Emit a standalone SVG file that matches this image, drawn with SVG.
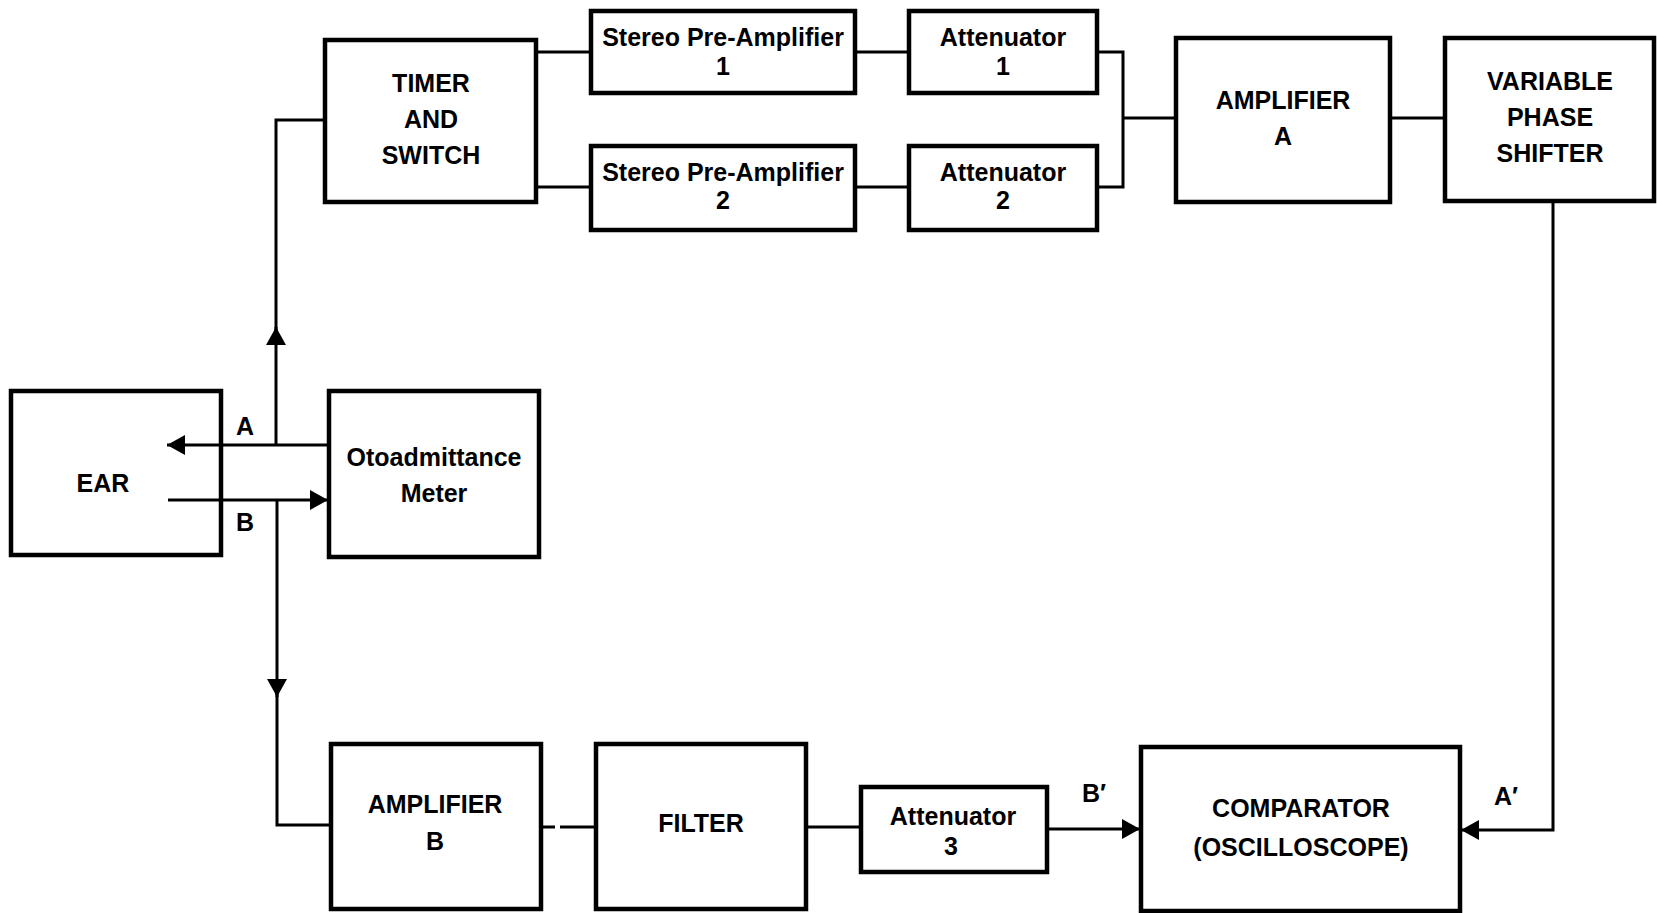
<svg xmlns="http://www.w3.org/2000/svg" width="1657" height="913" viewBox="0 0 1657 913">
<style>
.box{fill:none;stroke:#000;stroke-width:4.5}
.ln{fill:none;stroke:#000;stroke-width:3}
text{font-family:"Liberation Sans",Arial,sans-serif;font-weight:bold;font-size:25px;fill:#000;text-anchor:middle}
</style>
<defs>
<marker id="ah" viewBox="0 0 18 20" refX="18" refY="10" markerWidth="18" markerHeight="20" markerUnits="userSpaceOnUse" orient="auto">
<path d="M0,0 L18,10 L0,20 Z" fill="#000"/>
</marker>
</defs>
<rect width="1657" height="913" fill="#fff"/>
<g id="ear"><rect class="box" x="11" y="391" width="210" height="164"/><text x="103" y="492">EAR</text></g>
<g id="timer"><rect class="box" x="325" y="40" width="211" height="162"/><text x="431" y="92">TIMER</text><text x="431" y="128">AND</text><text x="431" y="164">SWITCH</text></g>
<g id="stereo1"><rect class="box" x="591" y="11" width="264" height="82"/><text x="723" y="46">Stereo Pre-Amplifier</text><text x="723" y="75">1</text></g>
<g id="stereo2"><rect class="box" x="591" y="146" width="264" height="84"/><text x="723" y="181">Stereo Pre-Amplifier</text><text x="723" y="209">2</text></g>
<g id="att1"><rect class="box" x="909" y="11" width="188" height="82"/><text x="1003" y="46">Attenuator</text><text x="1003" y="75">1</text></g>
<g id="att2"><rect class="box" x="909" y="146" width="188" height="84"/><text x="1003" y="181">Attenuator</text><text x="1003" y="209">2</text></g>
<g id="ampA"><rect class="box" x="1176" y="38" width="214" height="164"/><text x="1283" y="109">AMPLIFIER</text><text x="1283" y="145">A</text></g>
<g id="vps"><rect class="box" x="1445" y="38" width="209" height="163"/><text x="1550" y="90">VARIABLE</text><text x="1550" y="126">PHASE</text><text x="1550" y="162">SHIFTER</text></g>
<g id="oto"><rect class="box" x="329" y="391" width="210" height="166"/><text x="434" y="466">Otoadmittance</text><text x="434" y="502">Meter</text></g>
<g id="labelA"><text x="245" y="435">A</text></g>
<g id="labelB"><text x="245" y="531">B</text></g>
<g id="ampB"><rect class="box" x="331" y="744" width="210" height="165"/><text x="435" y="813">AMPLIFIER</text><text x="435" y="850">B</text></g>
<g id="filter"><rect class="box" x="596" y="744" width="210" height="165"/><text x="701" y="832">FILTER</text></g>
<g id="att3"><rect class="box" x="861" y="787" width="186" height="85"/><text x="953" y="825">Attenuator</text><text x="951" y="855">3</text></g>
<g id="labelB2"><text x="1094" y="802">B′</text></g>
<g id="labelA2"><text x="1506" y="805">A′</text></g>
<g id="comparator"><rect class="box" x="1141" y="747" width="319" height="164"/><text x="1301" y="817">COMPARATOR</text><text x="1301" y="856">(OSCILLOSCOPE)</text></g>
<g id="connectors">
<path class="ln" d="M536,52 H591"/>
<path class="ln" d="M536,187 H591"/>
<path class="ln" d="M855,52 H909"/>
<path class="ln" d="M855,187 H909"/>
<path class="ln" d="M1097,52 H1123 V187 H1097"/>
<path class="ln" d="M1123,118 H1176"/>
<path class="ln" d="M1390,118 H1445"/>
<path class="ln" d="M1553,201 V830 H1480"/>
<path class="ln" d="M1480,830 H1461" marker-end="url(#ah)"/>
<path class="ln" d="M276,445 V327" marker-end="url(#ah)"/>
<path class="ln" d="M276,330 V120 H325"/>
<path class="ln" d="M329,445 H167" marker-end="url(#ah)"/>
<path class="ln" d="M168,500 H328" marker-end="url(#ah)"/>
<path class="ln" d="M277,500 V697" marker-end="url(#ah)"/>
<path class="ln" d="M277,690 V825 H331"/>
<path class="ln" d="M541,827 H555 M560,827 H596"/>
<path class="ln" d="M806,827 H861"/>
<path class="ln" d="M1047,829 H1140" marker-end="url(#ah)"/>
</g>
</svg>
